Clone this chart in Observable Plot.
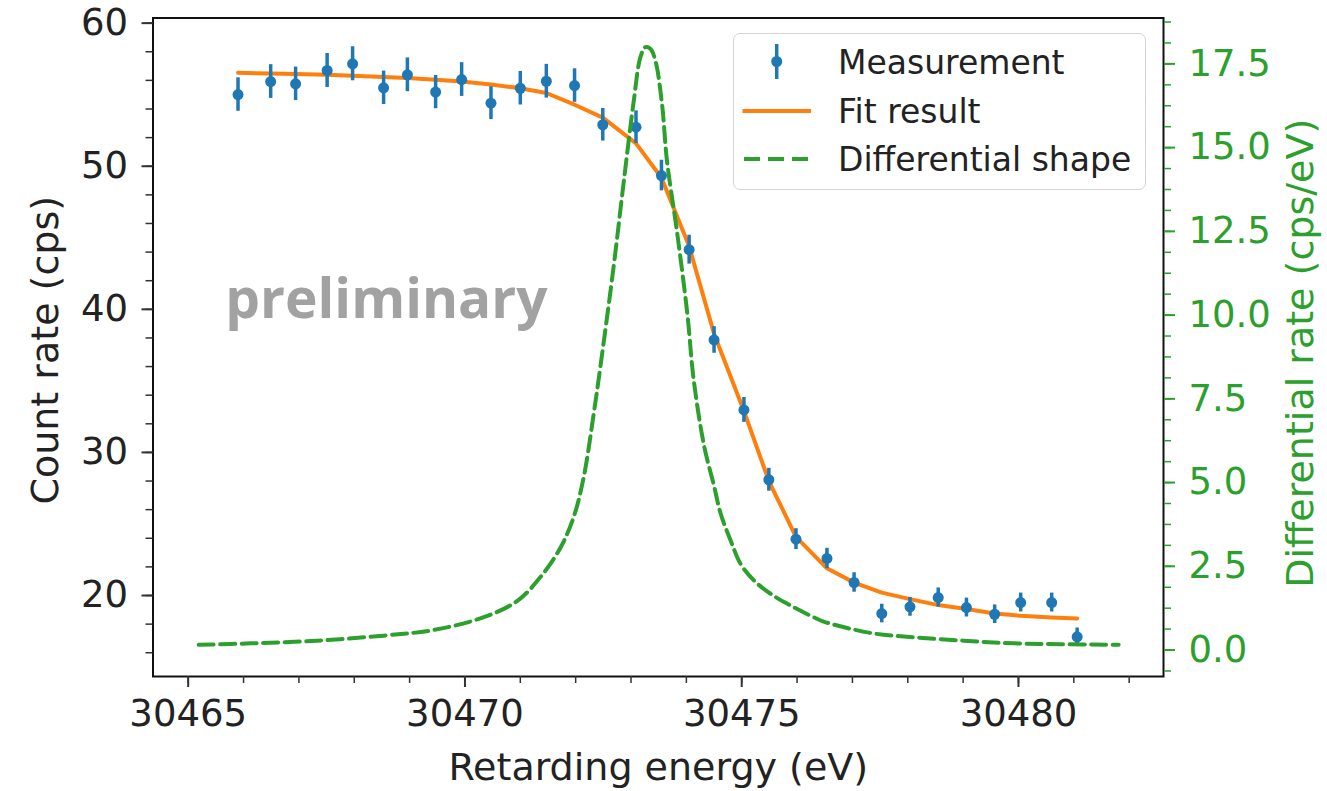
<!DOCTYPE html>
<html><head><meta charset="utf-8">
<script src="https://cdn.jsdelivr.net/npm/d3@7"></script>
<script src="https://cdn.jsdelivr.net/npm/@observablehq/plot@0.6"></script>
<style>
body{margin:0;background:#fff;}
#wrap{position:relative;width:1327px;height:791px;font-family:"DejaVu Sans",sans-serif;}
#legend{position:absolute;left:733px;top:33px;width:413px;height:157px;border:1.5px solid #d4d4d4;border-radius:7px;background:rgba(255,255,255,0.85);box-sizing:border-box;}
#legend span{position:absolute;left:104px;font-size:33px;color:#222;line-height:1;white-space:nowrap;}
#legend svg{position:absolute;left:0;top:0;}
</style></head><body><div id="wrap"></div><script>
// Measurement (retarding energy in eV, count rate in cps, 1-sigma error)
const energy = [30465.90, 30466.49, 30466.94, 30467.51, 30467.97, 30468.53, 30468.96, 30469.47, 30469.94, 30470.47, 30471.00, 30471.47, 30471.98, 30472.49, 30473.09, 30473.55, 30474.05, 30474.50, 30475.04, 30475.49, 30475.98, 30476.54, 30477.03, 30477.53, 30478.04, 30478.55, 30479.06, 30479.57, 30480.04, 30480.60, 30481.06];
const countRate = [55.01, 55.92, 55.76, 56.69, 57.16, 55.48, 56.39, 55.18, 56.06, 54.41, 55.45, 55.94, 55.64, 52.90, 52.73, 49.35, 44.17, 37.86, 32.97, 28.09, 23.94, 22.59, 20.91, 18.74, 19.21, 19.86, 19.16, 18.69, 19.51, 19.51, 17.11];
const countErr = [1.17, 1.18, 1.17, 1.19, 1.19, 1.17, 1.18, 1.16, 1.18, 1.15, 1.17, 1.18, 1.17, 1.14, 1.14, 1.07, 1.01, 0.93, 0.87, 0.80, 0.73, 0.71, 0.68, 0.65, 0.66, 0.67, 0.66, 0.65, 0.66, 0.66, 0.62];
// Fit result evaluated at the measurement energies
const fitRate = [56.53, 56.48, 56.45, 56.40, 56.33, 56.24, 56.16, 56.05, 55.92, 55.72, 55.45, 55.12, 54.30, 53.40, 51.60, 49.20, 44.40, 38.30, 32.90, 28.00, 24.10, 21.90, 20.90, 20.20, 19.75, 19.33, 19.05, 18.74, 18.58, 18.46, 18.40];
// Differential shape (cps/eV, right axis)
const diffEnergy = [30465.19, 30466.13, 30467.33, 30468.53, 30469.44, 30470.34, 30470.94, 30471.36, 30471.73, 30471.97, 30472.15, 30472.33, 30472.45, 30472.69, 30472.87, 30473.05, 30473.17, 30473.26, 30473.35, 30473.44, 30473.56, 30473.65, 30473.83, 30474.02, 30474.13, 30474.32, 30474.50, 30474.62, 30474.80, 30474.98, 30475.22, 30475.52, 30475.88, 30476.30, 30476.48, 30477.33, 30478.11, 30479.01, 30479.92, 30481.81];
const diffRate = [0.155, 0.20, 0.28, 0.43, 0.60, 0.98, 1.46, 2.17, 3.07, 4.00, 5.20, 7.10, 8.50, 11.50, 14.00, 16.40, 17.70, 18.00, 17.95, 17.60, 16.30, 14.60, 12.50, 10.00, 8.10, 6.10, 4.90, 4.07, 3.27, 2.57, 2.08, 1.68, 1.33, 0.98, 0.85, 0.51, 0.38, 0.28, 0.20, 0.155];

// Axis domains and ticks
const xDomain = [30464.364, 30482.62];
const yDomain = [14.34, 60.36];
const rightDomain = [-0.79, 18.87];
const xMajorTicks = [30465, 30470, 30475, 30480];
const xMinorTicks = d3.range(30465, 30483, 1);
const yMajorTicks = [20, 30, 40, 50, 60];
const yMinorTicks = d3.range(16, 61, 2);
const rightMajorTicks = [0, 2.5, 5, 7.5, 10, 12.5, 15, 17.5];
const rightMinorTicks = d3.range(-0.625, 18.8, 0.625);

const annotation = [{x: 30465.67, y: 39.42, text: "preliminary"}];
const legendLabels = ["Measurement", "Fit result", "Differential shape"];

const BLUE = "#1f77b4", ORANGE = "#ff7f0e", GREEN = "#2ca02c", INK = "#222";

// map right-axis values onto the left y scale (shared frame)
const toLeft = d3.scaleLinear().domain(rightDomain).range(yDomain);

const meas = energy.map((e, i) => ({e, c: countRate[i], err: countErr[i], fit: fitRate[i]}));
const diff = diffEnergy.map((e, i) => ({e, v: toLeft(diffRate[i])}));

const chart = Plot.plot({
  width: 1327, height: 791,
  marginLeft: 152.5, marginRight: 164, marginTop: 17.5, marginBottom: 115,
  style: {fontFamily: "DejaVu Sans, sans-serif", fontSize: "36px", color: INK, background: "white", overflow: "visible"},
  x: {domain: xDomain, axis: null, label: null},
  y: {domain: yDomain, axis: null, label: null},
  marks: [
    Plot.lineY(meas, {x: "e", y: "fit", stroke: ORANGE, strokeWidth: 4}),
    Plot.ruleX(meas, {x: "e", y1: d => d.c - d.err, y2: d => d.c + d.err, stroke: BLUE, strokeWidth: 3.5}),
    Plot.dot(meas, {x: "e", y: "c", r: 5.5, fill: BLUE, stroke: null}),
    Plot.lineY(diff, {x: "e", y: "v", stroke: GREEN, strokeWidth: 4, strokeDasharray: "15,6.5", curve: "catmull-rom"}),
    Plot.text(annotation, {x: "x", y: "y", text: "text", textAnchor: "start", lineAnchor: "bottom", fontFamily: "Open Sans", fontWeight: "bold", fontSize: 55, fill: "#a2a2a2"}),
    Plot.frame({stroke: "#111", strokeWidth: 2}),
    // bottom axis
    Plot.axisX(xMinorTicks, {anchor: "bottom", tickSize: 7, strokeWidth: 1.5, stroke: "#333", tickFormat: () => "", label: null}),
    Plot.axisX(xMajorTicks, {anchor: "bottom", tickSize: 11, tickPadding: 12, strokeWidth: 2, stroke: "#333", fill: INK, fontSize: 37, tickFormat: d => String(d), label: null}),
    // left axis
    Plot.axisY(yMinorTicks, {anchor: "left", tickSize: 7, strokeWidth: 1.5, stroke: "#333", tickFormat: () => "", label: null}),
    Plot.axisY(yMajorTicks, {anchor: "left", tickSize: 11, tickPadding: 14, strokeWidth: 2, stroke: "#333", fill: INK, fontSize: 37, tickFormat: d => String(d), label: null}),
    // right axis (differential rate)
    Plot.axisY(rightMinorTicks.map(toLeft), {anchor: "right", tickSize: 7, strokeWidth: 1.5, stroke: GREEN, tickFormat: () => "", label: null}),
    Plot.axisY(rightMajorTicks.map(toLeft), {anchor: "right", tickSize: 11, tickPadding: 14, strokeWidth: 2, stroke: GREEN, fill: GREEN, fontSize: 37, tickFormat: d => toLeft.invert(d).toFixed(1), label: null}),
    // axis titles
    Plot.text(["Count rate (cps)"], {text: d => d, frameAnchor: "left", textAnchor: "middle", lineAnchor: "middle", dx: -107, dy: 3, rotate: -90, fontSize: 38, fill: INK}),
    Plot.text(["Retarding energy (eV)"], {text: d => d, frameAnchor: "bottom", textAnchor: "middle", lineAnchor: "bottom", dy: 103, fontSize: 38, fill: INK}),
    Plot.text(["Differential rate (cps/eV)"], {text: d => d, frameAnchor: "right", textAnchor: "middle", lineAnchor: "middle", dx: 137, dy: 6, rotate: -90, fontSize: 38, fill: GREEN})
  ]
});

const wrap = document.getElementById("wrap");
wrap.appendChild(chart);

// legend overlay (inside the axes, upper right)
const legend = document.createElement("div");
legend.id = "legend";
legend.innerHTML = `
<svg width="413" height="157">
  <line x1="42.7" x2="42.7" y1="10" y2="45" stroke="${BLUE}" stroke-width="3.5"/>
  <circle cx="42.7" cy="27.5" r="5.5" fill="${BLUE}"/>
  <line x1="8.5" x2="77" y1="77" y2="77" stroke="${ORANGE}" stroke-width="4"/>
  <line x1="10" x2="77" y1="125" y2="125" stroke="${GREEN}" stroke-width="4" stroke-dasharray="16,8"/>
</svg>
<span style="top:12px">${legendLabels[0]}</span>
<span style="top:61px">${legendLabels[1]}</span>
<span style="top:109px">${legendLabels[2]}</span>`;
wrap.appendChild(legend);
</script></body></html>
